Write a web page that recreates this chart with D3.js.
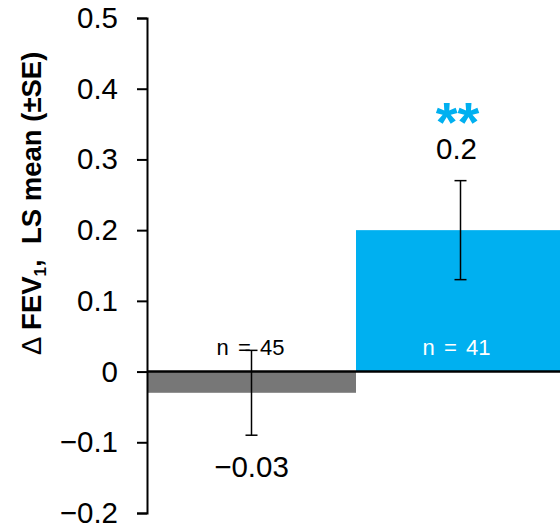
<!DOCTYPE html>
<html>
<head>
<meta charset="utf-8">
<script src="https://cdn.jsdelivr.net/npm/d3@7"></script>
<style>
  html, body { margin: 0; padding: 0; background: #fff; }
  svg { display: block; font-family: "Liberation Sans", Arial, sans-serif; }
</style>
</head>
<body>
<svg id="chart" width="560" height="526"></svg>
<script>
// Change in FEV1 (LS mean ± SE) by treatment group
const groups = ["Placebo", "Active"];
const means = [-0.03, 0.2];
const errors = [0.06, 0.07];
const counts = ["n = 45", "n = 41"];
const valueLabels = ["\u22120.03", "0.2"];
const significance = ["", "**"];
const yTicks = [-0.2, -0.1, 0, 0.1, 0.2, 0.3, 0.4, 0.5];

const colors = ["#777777", "#00B0F0"];

const svg = d3.select("#chart");

const y = d3.scaleLinear().domain([-0.2, 0.5]).range([513, 18]);
const x = d3.scaleBand().domain(groups).range([147, 565]).padding(0);

const fmt = v => v === 0 ? "0" : (v < 0 ? "\u2212" + d3.format(".1f")(-v) : d3.format(".1f")(v));

// bars
svg.append("g").selectAll("rect")
  .data(groups)
  .join("rect")
  .attr("x", d => x(d))
  .attr("width", x.bandwidth())
  .attr("y", (d, i) => y(Math.max(0, means[i])))
  .attr("height", (d, i) => Math.abs(y(means[i]) - y(0)))
  .attr("fill", (d, i) => colors[i]);

// sample size labels
svg.append("g").selectAll("text")
  .data(groups)
  .join("text")
  .attr("x", (d, i) => x(d) + x.bandwidth() / 2 - (i === 1 ? 4 : 1))
  .attr("y", y(0) - 17)
  .attr("text-anchor", "middle")
  .attr("font-size", 22)
  .attr("word-spacing", 3)
  .attr("fill", (d, i) => i === 1 ? "#ffffff" : "#000000")
  .text((d, i) => counts[i]);

// y axis
const axis = svg.append("g")
  .attr("transform", `translate(${x.range()[0]},0)`)
  .call(d3.axisLeft(y).tickValues(yTicks).tickFormat(fmt).tickSize(10).tickSizeOuter(10).tickPadding(19));
axis.select(".domain").attr("stroke", "#000").attr("stroke-width", 2);
axis.selectAll(".tick line").attr("stroke", "#000").attr("stroke-width", 2);
axis.selectAll(".tick text").attr("font-size", 29.5).attr("fill", "#000")
  .attr("font-family", "Liberation Sans, Arial, sans-serif");

// zero baseline
svg.append("line")
  .attr("x1", x.range()[0]).attr("x2", 560)
  .attr("y1", y(0)).attr("y2", y(0))
  .attr("stroke", "#000").attr("stroke-width", 2.5);

// error bars
const eb = svg.append("g").attr("stroke", "#000").attr("stroke-width", 1.5);
groups.forEach((g, i) => {
  const cx = x(g) + x.bandwidth() / 2;
  const top = y(means[i] + errors[i]);
  const bot = y(means[i] - errors[i]);
  eb.append("line").attr("x1", cx).attr("x2", cx).attr("y1", top).attr("y2", bot);
  eb.append("line").attr("x1", cx - 6).attr("x2", cx + 6).attr("y1", top).attr("y2", top);
  eb.append("line").attr("x1", cx - 6).attr("x2", cx + 6).attr("y1", bot).attr("y2", bot);
});

// value labels
groups.forEach((g, i) => {
  const cx = x(g) + x.bandwidth() / 2 - (i === 1 ? 4 : 0);
  const yy = means[i] < 0 ? y(means[i] - errors[i]) + 42 : y(means[i] + errors[i]) - 22;
  svg.append("text")
    .attr("x", cx).attr("y", yy)
    .attr("text-anchor", "middle")
    .attr("font-size", 29.5)
    .text(valueLabels[i]);
  if (significance[i]) {
    svg.append("text")
      .attr("x", cx + 1).attr("y", yy - 18)
      .attr("text-anchor", "middle")
      .attr("font-size", 56)
      .attr("font-weight", "bold")
      .attr("fill", colors[i])
      .text(significance[i]);
  }
});

// y axis title
const title = svg.append("text")
  .attr("transform", "translate(41,203) rotate(-90)")
  .attr("text-anchor", "middle")
  .attr("font-size", 27.5)
  .attr("font-weight", "bold");
title.append("tspan").attr("font-weight", "normal").text("\u2206 ");
title.append("tspan").text("FEV");
title.append("tspan").attr("font-size", 17).attr("dy", 5).text("1");
title.append("tspan").attr("dy", -5).text(",\u00a0\u00a0LS mean (\u00b1SE)");
</script>
</body>
</html>
